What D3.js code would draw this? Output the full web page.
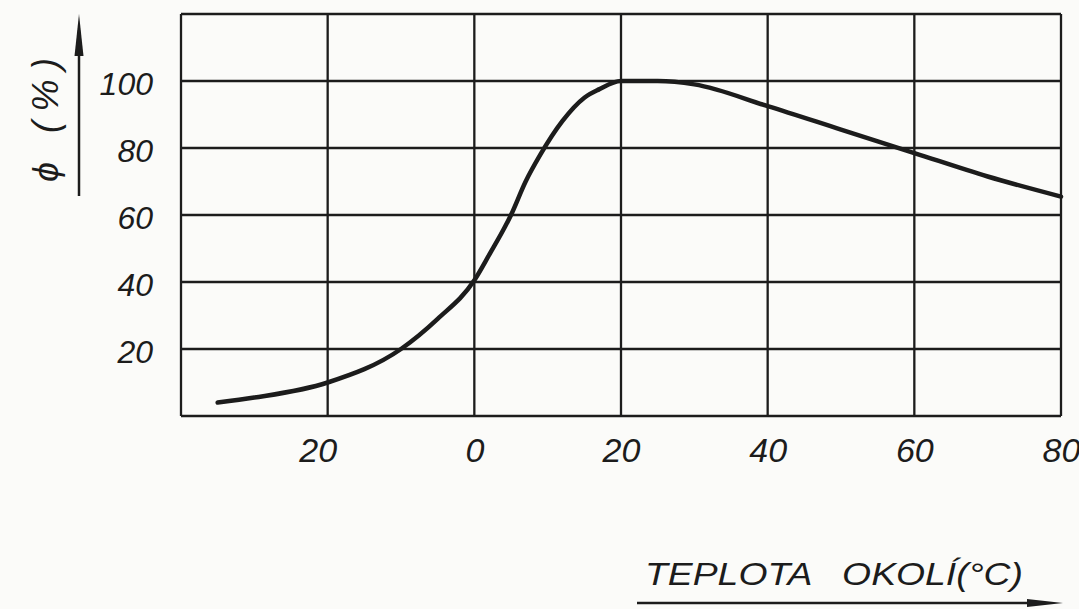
<!DOCTYPE html>
<html>
<head>
<meta charset="utf-8">
<script src="https://cdn.jsdelivr.net/npm/d3@7"></script>
<style>
  html, body { margin: 0; padding: 0; background: #fbfbf9; }
  svg { display: block; }
  text { font-family: "Liberation Sans", Arial, sans-serif; font-style: italic; fill: #1c1c1c; }
</style>
</head>
<body>
<svg id="chart" width="1079" height="609"></svg>
<script>
// Ambient temperature (°C) and relative efficiency φ (%)
const temps = [-35, -30, -20, -10, -5, 0, 2, 5, 7, 9, 12, 15, 17, 20, 25, 30, 40, 50, 60, 70, 80];
const phi   = [4, 5.5, 10, 20, 29, 40.5, 48, 60, 70, 78, 88, 95, 97.5, 100, 100, 99, 92.5, 85.5, 78.5, 71.5, 65.5];

const xTicks = [-20, 0, 20, 40, 60, 80];
const xTickLabels = ["20", "0", "20", "40", "60", "80"];
const yTicks = [20, 40, 60, 80, 100];
const gridX = [-40, -20, 0, 20, 40, 60, 80];
const gridY = [0, 20, 40, 60, 80, 100, 120];

const yTitle = "ϕ (%)";
const xTitle = "TEPLOTA   OKOLÍ(°C)";

const svg = d3.select("#chart");
const ink = "#1c1c1c";
const font = "Liberation Sans, Arial, sans-serif";

const x = d3.scaleLinear().domain([-40, 80]).range([181, 1061]);
const y = d3.scaleLinear().domain([0, 120]).range([416, 14]);

// Grid
const grid = svg.append("g").attr("stroke", ink).attr("stroke-width", 2.3).attr("fill", "none");
grid.selectAll("line.v").data(gridX).join("line")
  .attr("x1", d => x(d)).attr("x2", d => x(d))
  .attr("y1", y(0)).attr("y2", y(120));
grid.selectAll("line.h").data(gridY).join("line")
  .attr("x1", x(-40)).attr("x2", x(80))
  .attr("y1", d => y(d)).attr("y2", d => y(d));

// Tick labels
const xAxis = d3.axisBottom(x).tickValues(xTicks)
  .tickFormat((d, i) => xTickLabels[i]).tickSize(0).tickPadding(22);
const gx = svg.append("g").attr("transform", `translate(0,${y(0)})`).call(xAxis);
gx.select(".domain").remove();
gx.selectAll("text").attr("font-size", 34).attr("fill", ink)
  .attr("font-family", font).attr("font-style", "italic")
  .attr("dx", d => d < 0 ? -10 : 0);

const yAxis = d3.axisLeft(y).tickValues(yTicks).tickSize(0).tickPadding(28);
const gy = svg.append("g").attr("transform", `translate(${x(-40)},0)`).call(yAxis);
gy.select(".domain").remove();
gy.selectAll("text").attr("font-size", 32).attr("fill", ink)
  .attr("font-family", font).attr("font-style", "italic")
  .attr("dy", "0.42em");

// Curve
const line = d3.line()
  .x((d, i) => x(temps[i]))
  .y(d => y(d))
  .curve(d3.curveMonotoneX);
svg.append("path").datum(phi)
  .attr("d", line)
  .attr("fill", "none").attr("stroke", ink)
  .attr("stroke-width", 4.5).attr("stroke-linecap", "round");

// Long narrow arrowhead drawn at (tx,ty) pointing along angle (radians)
function arrowHead(tx, ty, angle, len, half) {
  const c = Math.cos(angle), s = Math.sin(angle);
  const bx = tx - c * len, by = ty - s * len;
  const p = [[tx, ty], [bx - s * half, by + c * half], [bx + s * half, by - c * half]];
  svg.append("path").attr("d", "M" + p.map(q => q.join(",")).join("L") + "Z").attr("fill", ink);
}

// Y axis title with arrow
svg.append("line")
  .attr("x1", 79).attr("x2", 79).attr("y1", 196).attr("y2", 30)
  .attr("stroke", ink).attr("stroke-width", 2.5);
arrowHead(79, 14, -Math.PI / 2, 42, 4.5);
svg.append("text")
  .attr("transform", "translate(58,120) rotate(-90)")
  .attr("text-anchor", "middle")
  .attr("font-size", 36)
  .attr("textLength", 124)
  .attr("lengthAdjust", "spacing")
  .text(yTitle);

// X axis title with arrow
svg.append("text")
  .attr("x", 645).attr("y", 585)
  .attr("font-size", 31)
  .attr("xml:space", "preserve")
  .style("white-space", "pre")
  .attr("textLength", 378)
  .attr("lengthAdjust", "spacingAndGlyphs")
  .text(xTitle);
svg.append("line")
  .attr("x1", 637).attr("x2", 1040).attr("y1", 603).attr("y2", 603)
  .attr("stroke", ink).attr("stroke-width", 2.5);
arrowHead(1063, 603, 0, 36, 4);
</script>
</body>
</html>
